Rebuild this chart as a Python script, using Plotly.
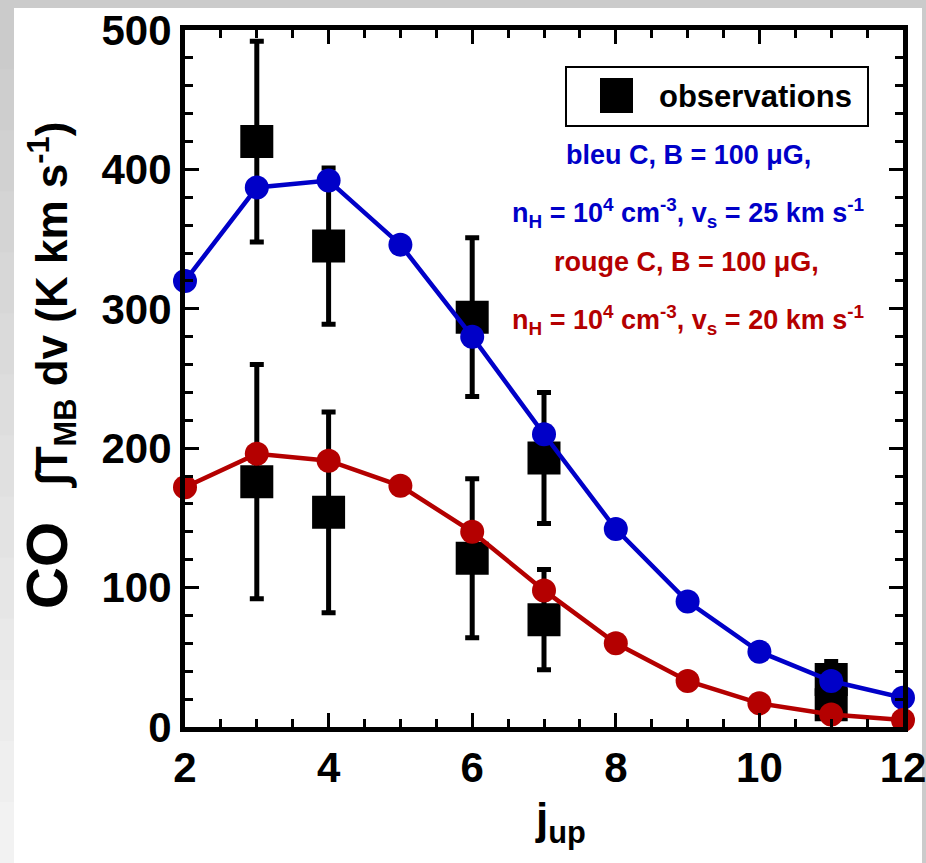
import plotly.graph_objects as go

# ---------------- data ----------------
j_model = [2, 3, 4, 5, 6, 7, 8, 9, 10, 11, 12]
blue_model = [320, 387, 392, 346, 280, 210, 142, 90, 54, 33, 21]
red_model = [172, 196, 191, 173, 140, 98, 60, 33, 17, 9, 5]

j_obs = [3, 4, 6, 7, 11, 3, 4, 6, 7, 11]
obs_val = [420, 345, 294, 193, 34, 176, 154, 121, 77, 16]
obs_err = [72, 56, 57, 47, 13, 84, 72, 57, 36, 10]

x_ticks = [2, 4, 6, 8, 10, 12]
y_ticks = [0, 100, 200, 300, 400, 500]

BLUE = "#0000c8"
RED = "#b40000"
FONT = "Liberation Sans, Arial, sans-serif"

fig = go.Figure()

fig.add_trace(go.Scatter(
    x=j_obs, y=obs_val, mode="markers",
    marker=dict(symbol="square", size=33, color="black"),
    error_y=dict(type="data", array=obs_err, visible=True,
                 color="black", thickness=5, width=7),
    cliponaxis=False, showlegend=False))

fig.add_trace(go.Scatter(
    x=j_model, y=blue_model, mode="lines+markers",
    line=dict(color=BLUE, width=4.5),
    marker=dict(symbol="circle", size=24, color=BLUE),
    cliponaxis=False, showlegend=False))

fig.add_trace(go.Scatter(
    x=j_model, y=red_model, mode="lines+markers",
    line=dict(color=RED, width=4.5),
    marker=dict(symbol="circle", size=24, color=RED),
    cliponaxis=False, showlegend=False))

L, R, T, B = 185, 23, 30, 136
W, H = 926, 863
pw, ph = W - L - R, H - T - B


def px(x):
    return (x - L) / pw


def py(y):
    return (H - B - y) / ph


shapes = [
    # white page over grey frame
    dict(type="rect", xref="paper", yref="paper", layer="below",
         x0=px(14), x1=px(922), y0=py(900), y1=py(8),
         fillcolor="white", line=dict(width=0)),
]
# light gradient on the left frame band
n_band = 14
for i in range(n_band):
    g = int(0xcb + (0xf2 - 0xcb) * i / (n_band - 1))
    shapes.append(dict(type="rect", xref="paper", yref="paper", layer="below",
                       x0=px(0), x1=px(14),
                       y0=py(8 + (i + 1) * (H - 8) / n_band + 1),
                       y1=py(8 + i * (H - 8) / n_band),
                       fillcolor=f"rgb({g},{g},{g})", line=dict(width=0)))
shapes += [
    # legend box
    dict(type="rect", xref="paper", yref="paper",
         x0=px(566), x1=px(868), y0=py(126), y1=py(67),
         fillcolor="white", line=dict(color="black", width=2)),
    dict(type="rect", xref="paper", yref="paper",
         x0=px(600), x1=px(633), y0=py(113), y1=py(78),
         fillcolor="black", line=dict(width=0)),
]

annotations = [
    dict(text="observations", x=px(657), y=py(96), xanchor="left", yanchor="middle",
         font=dict(size=31, color="black", family=FONT, weight="bold")),
    dict(text="bleu C, B = 100 μG,", x=px(688), y=py(155), xanchor="center", yanchor="middle",
         font=dict(size=27, color=BLUE, family=FONT, weight="bold")),
    dict(text="n<sub>H</sub> = 10<sup>4</sup> cm<sup>-3</sup>, v<sub>s</sub> = 25 km s<sup>-1</sup>",
         x=px(688), y=py(213), xanchor="center", yanchor="middle",
         font=dict(size=27, color=BLUE, family=FONT, weight="bold")),
    dict(text="rouge C, B = 100 μG,", x=px(686), y=py(262), xanchor="center", yanchor="middle",
         font=dict(size=27, color=RED, family=FONT, weight="bold")),
    dict(text="n<sub>H</sub> = 10<sup>4</sup> cm<sup>-3</sup>, v<sub>s</sub> = 20 km s<sup>-1</sup>",
         x=px(688), y=py(320), xanchor="center", yanchor="middle",
         font=dict(size=27, color=RED, family=FONT, weight="bold")),
    # axis titles
    dict(text="<span style='font-size:58px'>CO</span>&nbsp;&nbsp;&nbsp;∫T<sub>MB</sub> dv (K km s<sup>-1</sup>)",
         x=px(48), y=py(366), xanchor="center", yanchor="middle", textangle=-90,
         font=dict(size=44, color="black", family=FONT, weight="bold")),
    dict(text="j<sub>up</sub>", x=px(560), y=py(822), xanchor="center", yanchor="middle",
         font=dict(size=44, color="black", family=FONT, weight="bold")),
]
for a in annotations:
    a.update(xref="paper", yref="paper", showarrow=False)

axis_common = dict(
    showline=True, linecolor="black", linewidth=5, mirror="ticks",
    ticks="inside", ticklen=14, tickwidth=3, tickcolor="black",
    showgrid=False, zeroline=False, automargin=False,
    ticklabeloverflow="allow",
    tickfont=dict(size=42, color="black", family=FONT, weight="bold"),
)

fig.update_xaxes(range=[2, 12], tickvals=x_ticks,
                 minor=dict(dtick=0.5, ticks="inside", ticklen=8, tickwidth=3, tickcolor="black"),
                 **axis_common)
fig.update_yaxes(range=[0, 500], tickvals=y_ticks,
                 minor=dict(dtick=20, ticks="inside", ticklen=8, tickwidth=3, tickcolor="black"),
                 **axis_common)

fig.update_layout(
    template="none",
    width=W, height=H,
    margin=dict(l=L, r=R, t=T, b=B, pad=0),
    paper_bgcolor="#cbcbcb", plot_bgcolor="white",
    shapes=shapes, annotations=annotations,
    font=dict(family=FONT),
    showlegend=False,
)

fig.write_html("out.html",
               config={"displayModeBar": False},
               post_script="document.body.style.margin='0';document.body.style.overflow='hidden';")
